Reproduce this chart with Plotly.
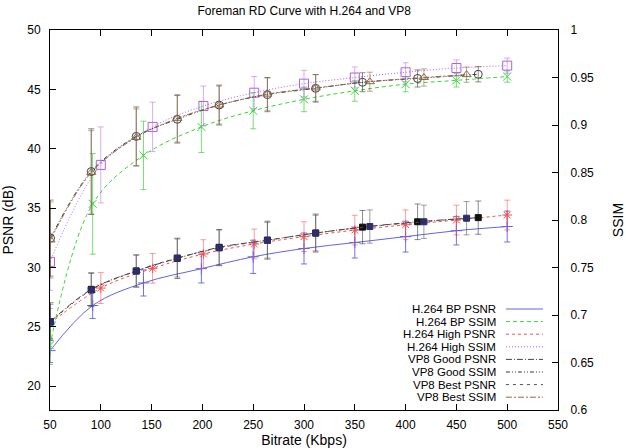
import plotly.graph_objects as go

# ---------------- data ----------------
bp_x = [50, 92, 142, 199, 250, 300, 350, 400, 450, 500]
bp_psnr = [23.0, 26.8, 28.7, 29.9, 30.9, 31.6, 32.1, 32.6, 33.1, 33.45]
bp_psnr_err = [1.0, 1.1, 1.1, 1.2, 1.4, 1.3, 1.3, 1.3, 1.2, 1.3]
bp_ssim = [0.668, 0.817, 0.868, 0.898, 0.915, 0.927, 0.936, 0.943, 0.947, 0.951]
bp_ssim_err = [0.02, 0.053, 0.036, 0.027, 0.019, 0.013, 0.011, 0.008, 0.007, 0.006]

hi_x = [50, 100, 151, 201, 251, 300, 350, 400, 450, 500]
hi_psnr = [25.3, 28.27, 29.93, 31.14, 31.98, 32.6, 33.15, 33.6, 34.0, 34.42]
hi_psnr_err = [1.25, 1.3, 1.25, 1.2, 1.25, 1.25, 1.25, 1.25, 1.25, 1.25]
hi_ssim = [0.756, 0.858, 0.898, 0.920, 0.934, 0.9435, 0.950, 0.9555, 0.960, 0.9625]
hi_ssim_err = [0.03, 0.04, 0.026, 0.021, 0.017, 0.014, 0.011, 0.010, 0.0085, 0.008]

vg_x = [50.5, 90.6, 134.9, 175.3, 216.5, 264, 311.5, 357.6, 411.8, 471.5]
vg_psnr = [25.44, 28.16, 29.71, 30.77, 31.7, 32.3, 32.9, 33.4, 33.85, 34.2]
vg_psnr_err = [1.6, 1.4, 1.35, 1.7, 1.5, 1.6, 1.6, 1.4, 1.5, 1.4]
vg_ssim = [0.781, 0.851, 0.888, 0.906, 0.921, 0.932, 0.9386, 0.945, 0.949, 0.9534]
vg_ssim_err = [0.04, 0.045, 0.031, 0.025, 0.021, 0.018, 0.0145, 0.010, 0.009, 0.008]

vb_x = [50.5, 90.6, 134.9, 175.3, 216.5, 264, 311.5, 364.8, 418, 460]
vb_psnr = [25.4, 28.1, 29.7, 30.8, 31.65, 32.3, 32.9, 33.45, 33.85, 34.15]
vb_psnr_err = [1.5, 1.4, 1.35, 1.6, 1.5, 1.5, 1.5, 1.4, 1.4, 1.4]
vb_ssim = [0.779, 0.850, 0.887, 0.907, 0.921, 0.9325, 0.939, 0.9456, 0.950, 0.953]
vb_ssim_err = [0.04, 0.044, 0.03, 0.025, 0.02, 0.017, 0.014, 0.010, 0.009, 0.008]

names = ["H.264 BP PSNR", "H.264 BP SSIM", "H.264 High PSNR", "H.264 High SSIM",
         "VP8 Good PSNR", "VP8 Good SSIM", "VP8 Best PSNR", "VP8 Best SSIM"]

x_ticks = [50, 100, 150, 200, 250, 300, 350, 400, 450, 500, 550]
y_ticks = [20, 25, 30, 35, 40, 45, 50]
y2_ticks = [0.6, 0.65, 0.7, 0.75, 0.8, 0.85, 0.9, 0.95, 1]
y2_text = ["0.6", "0.65", "0.7", "0.75", "0.8", "0.85", "0.9", "0.95", "1"]

# ---------------- styles ----------------
# name, x, y, err, axis, line color, dash, marker symbol, marker color, marker size, errbar color
series = [
    (names[0], bp_x, bp_psnr, bp_psnr_err, "y", "#6464e0", "solid", "cross-thin-open", "#6464e0", 8, "rgba(100,100,224,0.9)"),
    (names[1], bp_x, bp_ssim, bp_ssim_err, "y2", "#3cd23c", "4px,3px", "x-thin-open", "#3cd23c", 8, "rgba(60,210,60,0.7)"),
    (names[2], hi_x, hi_psnr, hi_psnr_err, "y", "#f05050", "3px,3px", "asterisk-open", "#f05050", 8, "rgba(240,80,80,0.55)"),
    (names[3], hi_x, hi_ssim, hi_ssim_err, "y2", "#b060e0", "1px,2px", "square-open", "#b060e0", 9, "rgba(176,96,224,0.5)"),
    (names[4], vg_x, vg_psnr, vg_psnr_err, "y", "#404048", "6px,2px,1px,2px", "square", "#111111", 6, "rgba(60,60,70,0.6)"),
    (names[5], vg_x, vg_ssim, vg_ssim_err, "y2", "#3a3a3a", "4px,2px,1px,2px,1px,2px", "circle-open", "#404040", 8, "rgba(70,60,50,0.6)"),
    (names[6], vb_x, vb_psnr, vb_psnr_err, "y", "#505050", "3px,4px", "square", "#2e2e6a", 6, "rgba(80,80,80,0.55)"),
    (names[7], vb_x, vb_ssim, vb_ssim_err, "y2", "#8a6a4a", "6px,2px,2px,2px", "triangle-up-open", "#8a6a4a", 8, "rgba(138,106,74,0.6)"),
]

fig = go.Figure()
for name, xs, ys, err, ax, col, dash, sym, mcol, msize, ecol in series:
    fig.add_trace(go.Scatter(
        x=xs, y=ys, name=name, yaxis=ax, mode="lines+markers",
        line=dict(color=col, width=1, dash=dash, shape="spline", smoothing=1.0),
        marker=dict(symbol=sym, size=msize, color=mcol, line=dict(color=mcol, width=1)),
        error_y=dict(type="data", array=err, visible=True, color=ecol, thickness=1, width=3),
        showlegend=False,
    ))

# ---------------- custom gnuplot-style key ----------------
L, R, T, B = 50.5, 558.0, 30.0, 410.0
W, H = R - L, B - T
row0 = 309.0
step = 12.6
shapes = []
annotations = []
for i, (name, xs, ys, err, ax, col, dash, sym, mcol, msize, ecol) in enumerate(series):
    py = row0 + i * step
    yp = (B - py) / H
    annotations.append(dict(
        x=(498 - L) / W, y=yp, xref="paper", yref="paper", text=name, showarrow=False,
        xanchor="right", yanchor="middle", font=dict(size=11.5, color="black")))
    shapes.append(dict(
        type="line", xref="paper", yref="paper", x0=(506 - L) / W, x1=(543 - L) / W,
        y0=yp, y1=yp, line=dict(color=col, width=1, dash=dash)))

font_family = "Liberation Sans, Arial, Helvetica, sans-serif"

fig.update_layout(
    width=626, height=448,
    margin=dict(l=50, r=68, t=30, b=38, autoexpand=False),
    paper_bgcolor="white", plot_bgcolor="white",
    font=dict(family=font_family, size=12, color="black"),
    title=dict(text="Foreman RD Curve with H.264 and VP8", x=0.486, xanchor="center",
               y=1 - 11 / 448, yanchor="middle", font=dict(size=12)),
    xaxis=dict(range=[50, 550], tickvals=x_ticks, ticks="inside", ticklen=6, tickcolor="black",
               showline=True, linecolor="black", linewidth=1, mirror="ticks", showgrid=False,
               zeroline=False, automargin=False, ticklabelstandoff=4,
               title=dict(text="Bitrate (Kbps)", standoff=6)),
    yaxis=dict(range=[18, 50], tickvals=y_ticks, ticks="inside", ticklen=6, tickcolor="black",
               showline=True, linecolor="black", linewidth=1, mirror=False, showgrid=False,
               zeroline=False, automargin=False, ticklabelstandoff=6,
               title=dict(text="PSNR (dB)", standoff=10)),
    yaxis2=dict(range=[0.6, 1.0], tickvals=y2_ticks, ticktext=y2_text, overlaying="y", side="right",
                ticks="inside", ticklen=6, tickcolor="black", showline=True, linecolor="black",
                linewidth=1, showgrid=False, zeroline=False, automargin=False, ticklabelstandoff=9,
                title=dict(text="SSIM", standoff=20)),
    shapes=shapes,
    annotations=annotations,
)

fig.write_html("out.html")
